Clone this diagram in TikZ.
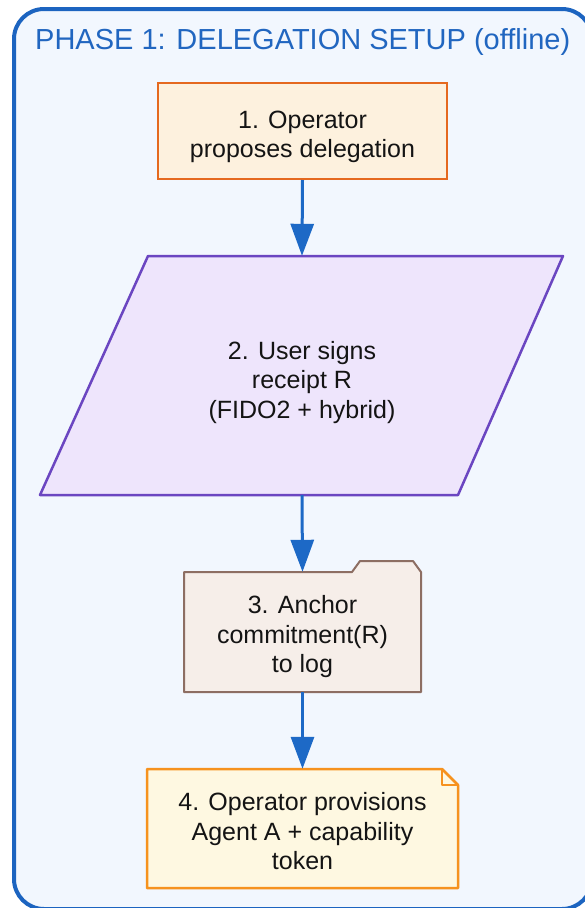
\documentclass[tikz,border=0pt]{standalone}
\usepackage{fontspec}
\setmainfont{Liberation Sans}
\usetikzlibrary{arrows.meta}

\definecolor{phasefill}{HTML}{F2F7FE}
\definecolor{phaseline}{HTML}{1C64C0}
\definecolor{titleblue}{HTML}{2166C0}
\definecolor{arrowblue}{HTML}{1D69C6}
\definecolor{opfill}{HTML}{FDF1DE}
\definecolor{opline}{HTML}{E5691F}
\definecolor{sigfill}{HTML}{EEE5FC}
\definecolor{sigline}{HTML}{6B46C1}
\definecolor{logfill}{HTML}{F6EEE9}
\definecolor{logline}{HTML}{8D6E63}
\definecolor{notefill}{HTML}{FEF8E1}
\definecolor{noteline}{HTML}{F6921E}

\tikzset{
  shapebox/.style={inner sep=0pt},
  steptext/.style={font=\fontsize{25}{29.5}\selectfont, text=black!92, align=center, inner sep=0pt},
  flowarrow/.style={draw=arrowblue, line width=3pt, -{Triangle[length=32pt,width=23pt]}},
}

\begin{document}
\begin{tikzpicture}[x=1pt,y=-1pt]
\useasboundingbox (0,0) rectangle (585,908);

% phase frame: runs past the right and bottom page edges
\begin{scope}
  \clip (0,0) rectangle (585,908);
  \fill[phasefill, rounded corners=30pt] (14,9) rectangle (592,909);
  \draw[phaseline, line width=4pt]
    (562,9) -- (44,9) arc[start angle=90, end angle=180, radius=30pt]
    -- (14,879) arc[start angle=180, end angle=270, radius=30pt]
    -- (562,909);
  \draw[phaseline, line width=4pt]
    (562,9) arc[start angle=90, end angle=0, radius=30pt];
  \draw[phaseline, line width=4pt]
    (562,909) arc[start angle=270, end angle=360, radius=30pt];
\end{scope}

\node[anchor=base west, inner sep=0pt, text=titleblue,
      font=\fontsize{29}{34}\selectfont] (title) at (35,49)
  {PHASE 1: DELEGATION SETUP (offline)};

% step 1: plain box
\node[shapebox, draw=opline, fill=opfill, line width=2pt,
      minimum width=289pt, minimum height=96pt] (n1) at (302.5,131) {};
\node[steptext] (t1) at ([yshift=-6pt]n1.center)
  {1. Operator\\proposes delegation};

% step 2: parallelogram
\node[shapebox, minimum width=200pt, minimum height=239pt] (n2) at (302,375.5) {};
\fill[sigfill] (148,256) -- (563,256) -- (458,495) -- (40,495) -- cycle;
\draw[sigline, line width=2.5pt, line join=round]
  (148,256) -- (563,256) -- (458,495) -- (40,495) -- cycle;
\node[steptext] (t2) at ([yshift=-7pt]n2.center)
  {2. User signs\\receipt R\\(FIDO2 + hybrid)};

% step 3: folder
\node[shapebox, minimum width=237pt, minimum height=120pt] (n3) at (302.5,632) {};
\draw[fill=logfill, draw=logline, line width=2pt, line join=round]
  (184,572) -- (352,572) -- (360,561) -- (413,561) -- (421,572)
  -- (421,692) -- (184,692) -- cycle;
\node[steptext] (t3) at ([yshift=-5pt]n3.center)
  {3. Anchor\\commitment(R)\\to log};

% step 4: note with folded corner
\node[shapebox, minimum width=311pt, minimum height=119pt] (n4) at (302.5,828.5) {};
\draw[fill=notefill, draw=noteline, line width=2.5pt, line join=round]
  (147,769) -- (442,769) -- (458,785) -- (458,888) -- (147,888) -- cycle;
\draw[noteline, line width=2.5pt, line join=round]
  (442,769) -- (442,785) -- (458,785);
\node[steptext] (t4) at ([yshift=-3pt]n4.center)
  {4. Operator provisions\\Agent A + capability\\token};

% flow
\draw[flowarrow] (n1.south) -- (n2.north);
\draw[flowarrow] (n2.south) -- (n3.north);
\draw[flowarrow] (n3.south) -- (n4.north);
\end{tikzpicture}
\end{document}
